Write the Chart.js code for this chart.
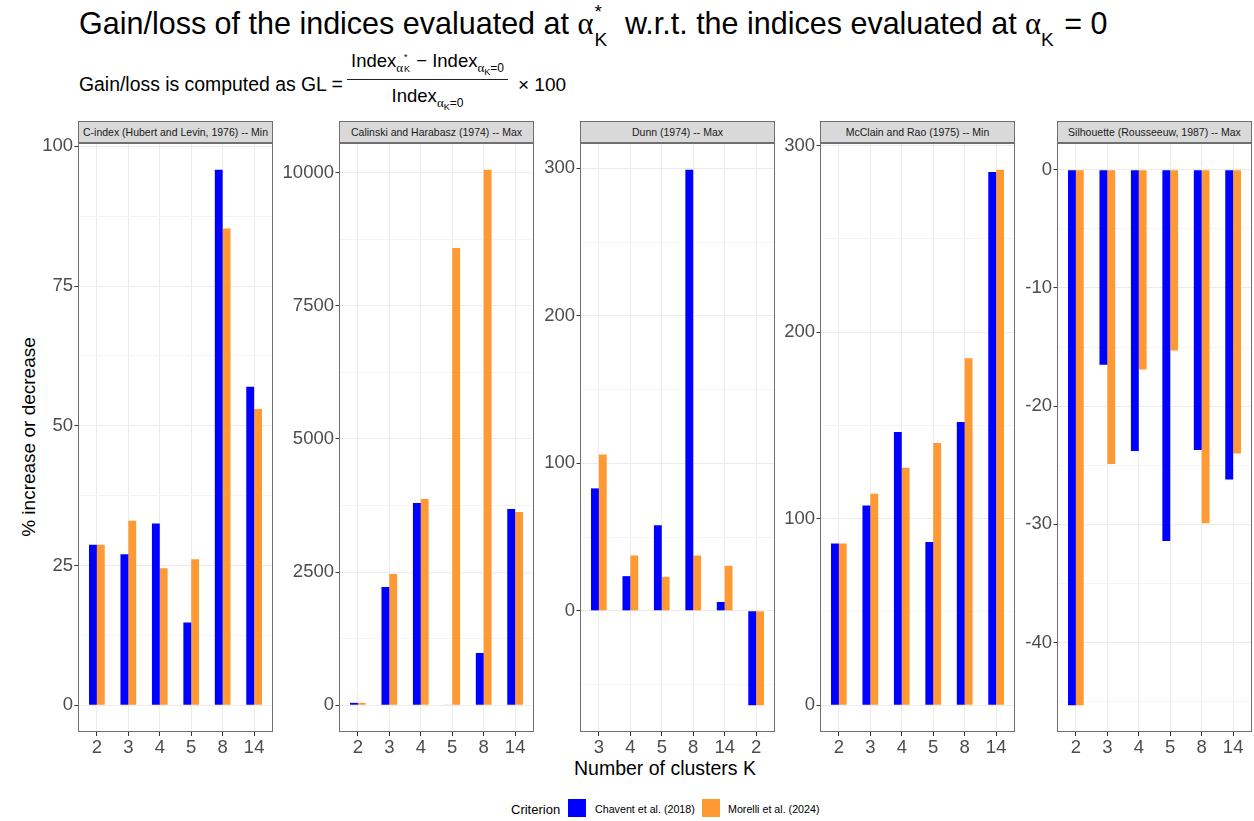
<!DOCTYPE html>
<html>
<head>
<meta charset="utf-8">
<script src="https://cdn.jsdelivr.net/npm/chart.js@4.4.1/dist/chart.umd.min.js"></script>
<style>
body { margin:0; background:#fff; font-family:"Liberation Sans", Arial, sans-serif; color:#000; }
#wrap { position:relative; width:1254px; height:821px; overflow:hidden; background:#fff; }
.abs { position:absolute; white-space:nowrap; line-height:1; }
.strip { position:absolute; top:121px; height:22px; box-sizing:border-box; border:1px solid #707070; background:#D9D9D9; color:#1A1A1A; font-size:10.5px; line-height:20px; text-align:center; white-space:nowrap; }
canvas { position:absolute; top:123px; }
.gr { font-family:"Liberation Serif", "DejaVu Serif", serif; }
.stk { position:relative; display:inline-block; height:0; }
.stk span { position:absolute; left:1px; line-height:1; }
.sb { position:relative; }
.key { position:absolute; width:18px; height:18px; top:799px; }
</style>
</head>
<body>
<div id="wrap">
  <div class="abs" style="left:79px;top:7.5px;font-size:30.5px">Gain/loss of the indices evaluated at <span class="gr">α</span><span class="stk" style="width:23px"><span style="top:-32px;font-size:19px">*</span><span style="top:-4px;font-size:19px">K</span></span> w.r.t. the indices evaluated at <span class="gr">α</span><span class="sb" style="top:12px;font-size:19px;margin-right:2px">K</span> = 0</div>

  <div class="abs" style="left:79px;top:74.6px;font-size:19.4px">Gain/loss is computed as GL =</div>
  <div class="abs" style="left:347px;top:52px;width:161px;text-align:center;font-size:18.5px">Index<span class="sb gr" style="top:5px;font-size:13px">α</span><span class="stk" style="width:8px"><span style="top:-2px;font-size:9px">K</span><span style="top:-14px;font-size:9px">*</span></span> − Index<span class="sb gr" style="top:5px;font-size:13px">α</span><span class="sb" style="top:8px;font-size:9px">K</span><span class="sb" style="top:5px;font-size:12px">=0</span></div>
  <div style="position:absolute;left:347px;top:79px;width:161px;height:1px;background:#222"></div>
  <div class="abs" style="left:347px;top:87px;width:161px;text-align:center;font-size:18.5px">Index<span class="sb gr" style="top:5px;font-size:13px">α</span><span class="sb" style="top:8px;font-size:9px">K</span><span class="sb" style="top:5px;font-size:12px">=0</span></div>
  <div class="abs" style="left:518px;top:74.6px;font-size:19px">× 100</div>

  <div class="abs" style="left:28px;top:437px;font-size:19px;transform:translate(-50%,-50%) rotate(-90deg)">% increase or decrease</div>
  <div class="abs" style="left:665px;top:759px;font-size:19.5px;transform:translateX(-50%)">Number of clusters K</div>

  <div class="abs" style="left:511px;top:803px;font-size:13px">Criterion</div>
  <div class="key" style="left:568px;background:#0000FF"></div>
  <div class="abs" style="left:595px;top:804px;font-size:10.7px">Chavent et al. (2018)</div>
  <div class="key" style="left:702px;background:#FF9933"></div>
  <div class="abs" style="left:728px;top:804px;font-size:10.7px">Morelli et al. (2024)</div>
</div>
<script>
// facet titles and x categories
var panelTitles = [
  'C-index (Hubert and Levin, 1976) -- Min',
  'Calinski and Harabasz (1974) -- Max',
  'Dunn (1974) -- Max',
  'McClain and Rao (1975) -- Min',
  'Silhouette (Rousseeuw, 1987) -- Max'
];
var clusterCats = ['2', '3', '4', '5', '8', '14'];
var dunnCats = ['3', '4', '5', '8', '14', '2'];

var seriesNames = ['Chavent et al. (2018)', 'Morelli et al. (2024)'];
var seriesColors = ['#0000FF', '#FF9933'];

// % gain/loss per index
var chaventCIndex = [28.7, 27.0, 32.5, 14.8, 95.8, 57.0];
var morelliCIndex = [28.7, 33.0, 24.5, 26.1, 85.3, 53.0];
var chaventCH = [45, 2220, 3795, 8, 980, 3682];
var morelliCH = [45, 2462, 3870, 8580, 10050, 3626];
var chaventDunn = [83, 23.5, 58, 299, 6, -64];
var morelliDunn = [106, 37.5, 23, 37.5, 30.5, -64];
var chaventMcClain = [86.7, 107, 146.5, 87.5, 151.8, 285.8];
var morelliMcClain = [86.7, 113.4, 127.3, 140.6, 186, 287];
var chaventSil = [-45.3, -16.5, -23.8, -31.4, -23.7, -26.2];
var morelliSil = [-45.3, -24.9, -16.9, -15.3, -29.9, -24.0];

// major y break spacing per facet
var yStep = [25, 2500, 100, 100, 10];

var panelLeft = [78, 339, 580, 820, 1057];
var panelWidth = 195;
var panelTop = 143;
var panelHeight = 589;
var axisW = 70, axisH = 40, padTop = 20, padRight = 4;

Chart.defaults.font.family = '"Liberation Sans", Arial, sans-serif';

var panelBorder = {
  id: 'panelBorder',
  afterDraw: function(chart) {
    var a = chart.chartArea, c = chart.ctx;
    c.save();
    c.strokeStyle = '#707070';
    c.lineWidth = 1;
    c.strokeRect(Math.round(a.left) + 0.5, Math.round(a.top) + 0.5,
      Math.round(a.right - a.left) - 1, Math.round(a.bottom - a.top) - 1);
    c.restore();
  }
};

var panels = [
  { cats: clusterCats, a: chaventCIndex, b: morelliCIndex, step: yStep[0] },
  { cats: clusterCats, a: chaventCH, b: morelliCH, step: yStep[1] },
  { cats: dunnCats, a: chaventDunn, b: morelliDunn, step: yStep[2] },
  { cats: clusterCats, a: chaventMcClain, b: morelliMcClain, step: yStep[3] },
  { cats: clusterCats, a: chaventSil, b: morelliSil, step: yStep[4] }
];

var wrap = document.getElementById('wrap');

panels.forEach(function(p, n) {
  var strip = document.createElement('div');
  strip.className = 'strip';
  strip.style.left = panelLeft[n] + 'px';
  strip.style.width = panelWidth + 'px';
  strip.textContent = panelTitles[n];
  wrap.appendChild(strip);

  var cv = document.createElement('canvas');
  cv.width = axisW + panelWidth + padRight;
  cv.height = padTop + panelHeight + axisH;
  cv.style.left = (panelLeft[n] - axisW) + 'px';
  cv.style.top = (panelTop - padTop) + 'px';
  wrap.appendChild(cv);

  // ggplot style 5% expansion around the data (and zero)
  var all = p.a.concat(p.b, [0]);
  var lo = Math.min.apply(null, all), hi = Math.max.apply(null, all);
  var pad = (hi - lo) * 0.05;

  new Chart(cv, {
    type: 'bar',
    data: {
      datasets: [
        { label: seriesNames[0], data: p.a.map(function(v, i) { return { x: i + 1, y: v }; }), backgroundColor: seriesColors[0] },
        { label: seriesNames[1], data: p.b.map(function(v, i) { return { x: i + 1, y: v }; }), backgroundColor: seriesColors[1] }
      ]
    },
    options: {
      responsive: false,
      animation: false,
      layout: { padding: { top: padTop, right: padRight, left: 0, bottom: 0 } },
      datasets: { bar: { categoryPercentage: 0.5, barPercentage: 1, borderWidth: 0 } },
      plugins: { legend: { display: false }, tooltip: { enabled: false } },
      scales: {
        x: {
          type: 'linear', min: 0.4, max: p.cats.length + 0.6, bounds: 'data', offset: false,
          afterBuildTicks: function(s) { s.ticks = p.cats.map(function(c, i) { return { value: i + 1 }; }); },
          afterFit: function(s) { s.height = axisH; },
          ticks: { autoSkip: false, maxRotation: 0, padding: 1, color: '#4D4D4D', font: { size: 18.5 },
            callback: function(v) { return p.cats[v - 1]; } },
          grid: { offset: false, color: '#EBEBEB', tickColor: '#333333', tickLength: 4 },
          border: { display: false }
        },
        y: {
          type: 'linear', min: lo - pad, max: hi + pad, bounds: 'data',
          afterBuildTicks: function(s) {
            var t = [], h = p.step / 2;
            for (var k = Math.ceil(s.min / h); k * h <= s.max; k++) t.push({ value: k * h, minor: k % 2 !== 0 });
            s.ticks = t;
          },
          afterFit: function(s) { s.width = axisW; },
          ticks: { autoSkip: false, padding: 1.5, color: '#4D4D4D', font: { size: 18.5 },
            callback: function(v, i, t) { return t[i].minor ? '' : String(v); } },
          grid: {
            color: function(c) { return c.tick && c.tick.minor ? '#F4F4F4' : '#EBEBEB'; },
            tickColor: function(c) { return c.tick && c.tick.minor ? 'rgba(0,0,0,0)' : '#333333'; },
            tickLength: 3.5
          },
          border: { display: false }
        }
      }
    },
    plugins: [panelBorder]
  });
});
</script>
</body>
</html>
